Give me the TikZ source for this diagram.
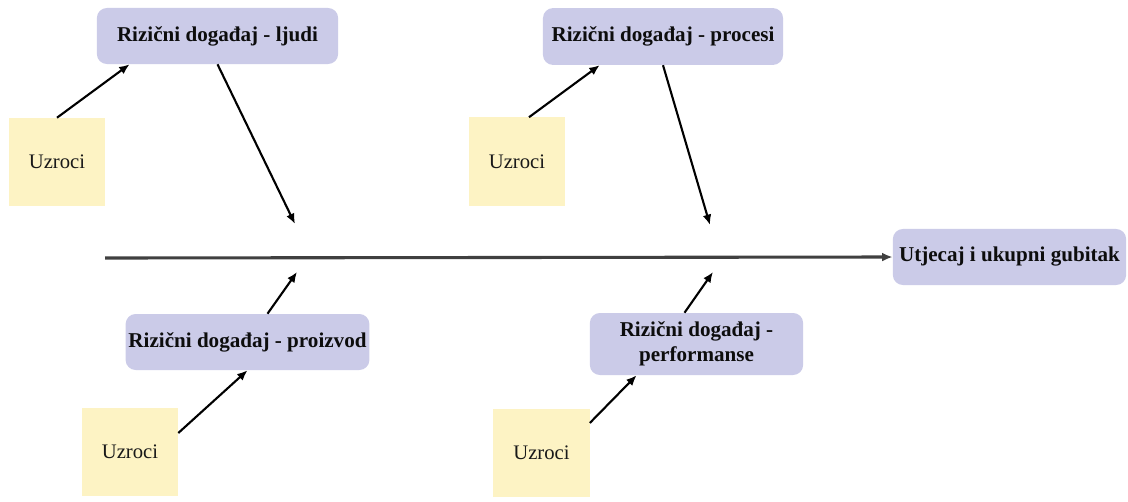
\documentclass[tikz,border=0pt]{standalone}
\usepackage{fontspec}
\setmainfont{Liberation Serif}
\usetikzlibrary{arrows.meta,calc}
\definecolor{dogadaj}{RGB}{203,203,232}
\definecolor{uzrok}{RGB}{253,243,196}

\begin{document}
\begin{tikzpicture}[x=0.025cm,y=-0.025cm,
    event/.style={fill=dogadaj,rounded corners=2.5mm,inner sep=2pt,align=center,
      font=\fontsize{15}{18}\selectfont\bfseries,text=black!95},
    cause/.style={fill=uzrok,minimum width=2.4cm,minimum height=2.2cm,
      font=\fontsize{14.7}{17}\selectfont,text=black!90},
    link/.style={-{Latex[length=2.6mm,width=2.2mm]},line width=1.5pt}]
      \useasboundingbox (0,0) rectangle (1128,501);
      \node[event,minimum width=6.03cm,minimum height=1.4cm] (ljudi) at (217.5,36) {Rizični događaj - ljudi};
      \node[event,minimum width=6.0cm,minimum height=1.42cm] (procesi) at (663,36.5) {Rizični događaj - procesi};
      \node[event,minimum width=6.03cm,minimum height=1.4cm] (proizvod) at (247.5,342) {Rizični događaj - proizvod};
      \node[event,minimum width=5.33cm,minimum height=1.55cm] (performanse) at (696.5,344) {Rizični događaj -\\performanse};
      \node[event,minimum width=5.83cm,minimum height=1.4cm] (gubitak) at (1009.5,257) {Utjecaj i ukupni gubitak};
      \node[cause] (uzrociA) at (57,162) {Uzroci};
      \node[cause] (uzrociB) at (517,161.5) {Uzroci};
      \node[cause] (uzrociC) at (130,452) {Uzroci};
      \node[cause] (uzrociD) at (541.5,453) {Uzroci};
      \coordinate (pocetak) at (105,258);
      \coordinate (kostA) at (295,224);
      \coordinate (kostB) at (297,272);
      \coordinate (kostC) at (710,225);
      \coordinate (kostD) at (713,272);
      % glavna os
      \draw[link,line width=2.2pt,black!75] (pocetak) -- (gubitak.west);
      % gornje grane
      \draw[link] (uzrociA.north) -- ($(ljudi.south west)+(33,0)$);
      \draw[link] (ljudi.south) -- (kostA);
      \draw[link] ($(uzrociB.north)+(12,0)$) -- ($(procesi.south west)+(57,0)$);
      \draw[link] (procesi.south) -- (kostC);
      % donje grane
      \draw[link] ($(proizvod.north)+(20,0)$) -- (kostB);
      \draw[link] ($(uzrociC.east)+(0,-19)$) -- (proizvod.south);
      \draw[link] ($(performanse.north)+(-12,0)$) -- (kostD);
      \draw[link] ($(uzrociD.east)+(0,-30)$) -- ($(performanse.south west)+(47,0)$);
    \end{tikzpicture}
\end{document}
